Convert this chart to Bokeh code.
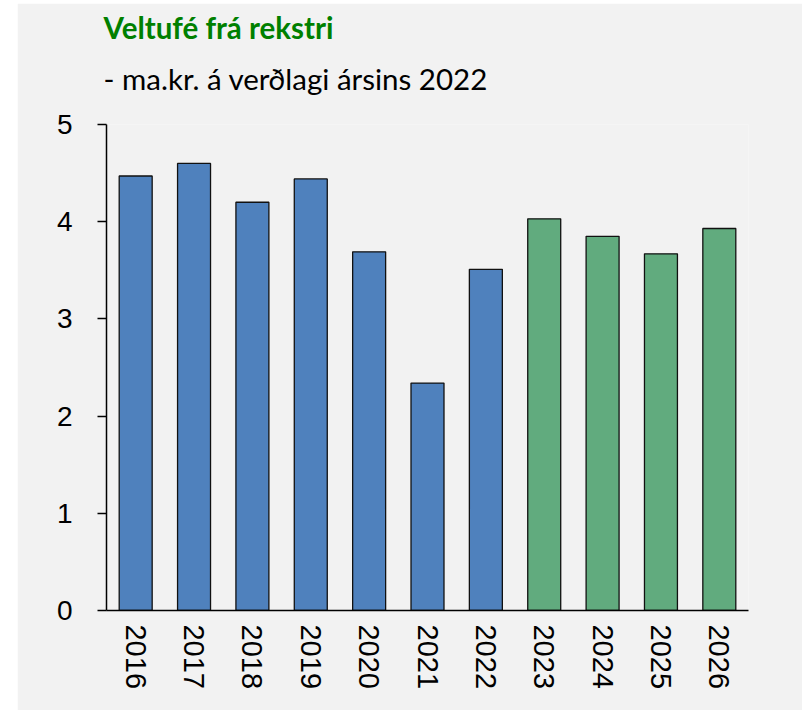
from bokeh.plotting import figure
from bokeh.models import ColumnDataSource, Range1d, Title, FixedTicker
from bokeh.embed import file_html
from bokeh.resources import INLINE
import math

years = ["2016", "2017", "2018", "2019", "2020", "2021", "2022", "2023", "2024", "2025", "2026"]
values = [4.47, 4.60, 4.20, 4.44, 3.69, 2.34, 3.51, 4.03, 3.85, 3.67, 3.93]
kinds = ["actual"] * 7 + ["forecast"] * 4
y_ticks = [0, 1, 2, 3, 4, 5]

color_map = {"actual": "#4f81bd", "forecast": "#61ab7e"}
colors = [color_map[k] for k in kinds]

source = ColumnDataSource(dict(year=years, value=values, color=colors))

BG = "#f2f2f2"
p = figure(x_range=years, y_range=Range1d(0, 5), width=785, height=707,
           output_backend="svg", toolbar_location=None,
           background_fill_color=BG, border_fill_color=BG,
           min_border_left=89, min_border_right=54, min_border_top=121, min_border_bottom=100)
p.margin = (3, 0, 0, 17)
p.outline_line_color = None
p.grid.grid_line_color = None

p.vbar(x="year", top="value", width=0.565, source=source,
       fill_color="color", line_color="#111111", line_width=1.3)

p.yaxis.ticker = FixedTicker(ticks=y_ticks)
p.yaxis.minor_tick_line_color = None
p.yaxis.major_tick_out = 9
p.yaxis.major_tick_in = 0
p.yaxis.axis_line_width = 1.5
p.yaxis.major_tick_line_width = 1.5
p.yaxis.axis_line_color = "black"
p.yaxis.major_label_text_font = "Liberation Sans"
p.yaxis.major_label_text_font_size = "28px"
p.yaxis.major_label_text_color = "black"
p.yaxis.major_label_standoff = 25

p.xaxis.major_tick_out = 0
p.xaxis.major_tick_in = 0
p.xaxis.axis_line_width = 1.5
p.xaxis.axis_line_color = "black"
p.xaxis.major_label_orientation = -math.pi / 2
p.xaxis.major_label_text_font = "Liberation Sans"
p.xaxis.major_label_text_font_size = "29px"
p.xaxis.major_label_text_color = "black"
p.xaxis.major_label_standoff = 14

p.add_layout(Title(text="- ma.kr. á verðlagi ársins 2022", align="left", offset=-3,
                   text_font="Lato", text_font_size="29.5px", text_font_style="normal",
                   text_color="black", standoff=58), "above")
p.add_layout(Title(text="Veltufé frá rekstri", align="left", offset=-3,
                   text_font="Lato", text_font_size="29.5px", text_font_style="bold",
                   text_color="#008000", standoff=-31), "above")

open("out.html", "w").write(file_html(p, INLINE))
